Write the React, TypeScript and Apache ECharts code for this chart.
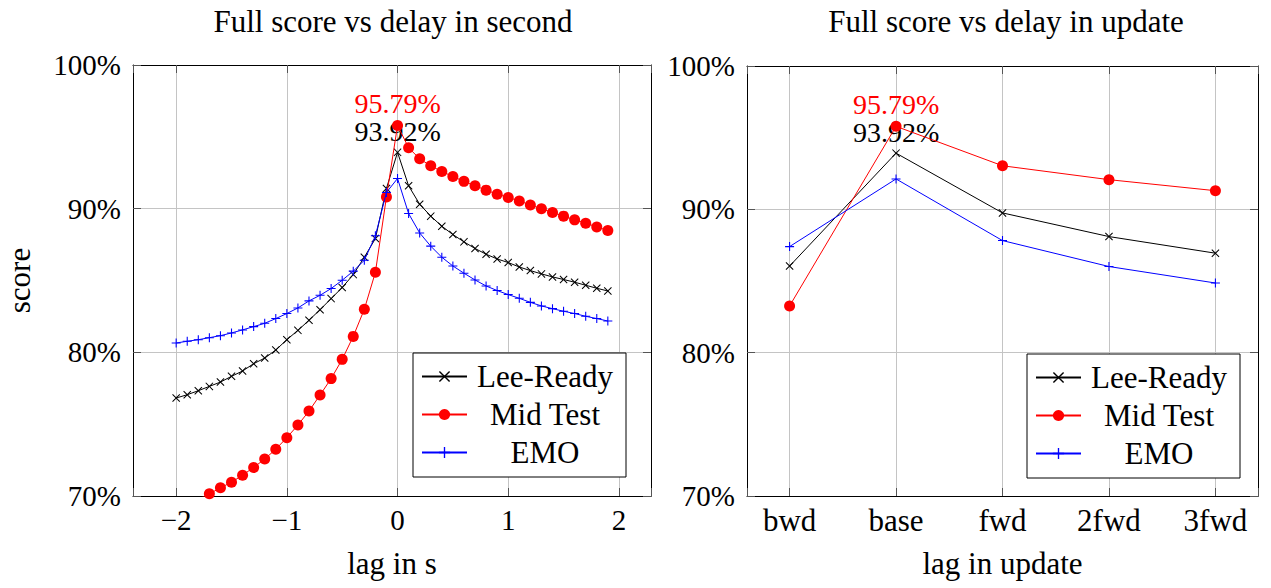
import React, { useEffect, useRef } from 'react';
import * as echarts from 'echarts';

const lagSeconds = [
  -2.0, -1.9, -1.8, -1.7, -1.6, -1.5, -1.4, -1.3, -1.2, -1.1,
  -1.0, -0.9, -0.8, -0.7, -0.6, -0.5, -0.4, -0.3, -0.2, -0.1,
  0.0, 0.1, 0.2, 0.3, 0.4, 0.5, 0.6, 0.7, 0.8, 0.9,
  1.0, 1.1, 1.2, 1.3, 1.4, 1.5, 1.6, 1.7, 1.8, 1.9,
];
const leeReadySec = [
  76.82, 77.05, 77.33, 77.63, 77.93, 78.33, 78.7, 79.21, 79.6, 80.16,
  80.88, 81.53, 82.23, 82.97, 83.74, 84.51, 85.41, 86.62, 87.92, 91.41,
  93.92, 91.59, 90.31, 89.48, 88.78, 88.2, 87.69, 87.23, 86.83, 86.5,
  86.25, 85.94, 85.69, 85.46, 85.25, 85.07, 84.88, 84.67, 84.46, 84.27,
];
const midTestSec = [
  69.08, 69.42, 69.78, 70.15, 70.57, 70.96, 71.45, 71.99, 72.57, 73.26,
  74.06, 74.94, 75.91, 77.03, 78.17, 79.51, 81.11, 83.0, 85.57, 90.82,
  95.79, 94.24, 93.47, 92.98, 92.59, 92.24, 91.9, 91.59, 91.29, 91.01,
  90.78, 90.54, 90.26, 89.99, 89.74, 89.48, 89.22, 88.99, 88.73, 88.48,
];
const emoSec = [
  80.65, 80.77, 80.88, 81.02, 81.16, 81.35, 81.56, 81.79, 82.02, 82.35,
  82.7, 83.09, 83.58, 83.97, 84.44, 85.02, 85.65, 86.41, 88.11, 91.13,
  92.1, 89.66, 88.31, 87.39, 86.62, 86.01, 85.51, 85.04, 84.62, 84.3,
  84.02, 83.76, 83.48, 83.23, 83.04, 82.86, 82.7, 82.51, 82.35, 82.18,
];

const updateCategories = ['bwd', 'base', 'fwd', '2fwd', '3fwd'];
const leeReadyUpd = [86.04, 93.92, 89.75, 88.1, 86.94];
const midTestUpd = [83.26, 95.79, 93.04, 92.07, 91.3];
const emoUpd = [87.4, 92.12, 87.82, 86.01, 84.86];

const seriesNames = ['Lee-Ready', 'Mid Test', 'EMO'];
const peakLabels = ['93.92%', '95.79%'];

const SERIF = '"Liberation Serif", "Times New Roman", serif';
const FRAME = '#000000';
const GRIDC = '#c4c4c4';
const TICKC = '#555555';

const X_SYMBOL =
  'path://M0,0.9L0.9,0L5,4.1L9.1,0L10,0.9L5.9,5L10,9.1L9.1,10L5,5.9L0.9,10L0,9.1L4.1,5Z';
const PLUS_SYMBOL = 'path://M4.4,0H5.6V4.4H10V5.6H5.6V10H4.4V5.6H0V4.4H4.4Z';

const styles = [
  { color: '#000000', symbol: X_SYMBOL, size: 8 },
  { color: '#ff0000', symbol: 'circle', size: 11 },
  { color: '#0000ff', symbol: PLUS_SYMBOL, size: 9 },
];

function fmtNum(v: number): string {
  if (Math.abs(v - Math.round(v)) > 1e-6) return '';
  const r = Math.round(v);
  return r < 0 ? '\u2212' + Math.abs(r) : String(r);
}

function mkX(grid: number, min: number, max: number, bottom: boolean, extra: any) {
  return {
    type: 'value',
    gridIndex: grid,
    min,
    max,
    position: bottom ? 'bottom' : 'top',
    axisLine: { show: true, onZero: false, lineStyle: { color: FRAME, width: 1 } },
    axisTick: { show: true, inside: true, length: 8, lineStyle: { color: TICKC, width: 1 } },
    splitLine: { show: bottom, lineStyle: { color: GRIDC, width: 1 } },
    axisLabel: { show: false },
    ...extra,
  };
}

function mkY(grid: number, left: boolean, extra: any) {
  return {
    type: 'value',
    gridIndex: grid,
    min: 70,
    max: 100,
    interval: 10,
    position: left ? 'left' : 'right',
    axisLine: { show: true, onZero: false, lineStyle: { color: FRAME, width: 1 } },
    axisTick: { show: true, inside: true, length: 8, lineStyle: { color: TICKC, width: 1 } },
    splitLine: { show: left, lineStyle: { color: GRIDC, width: 1 } },
    axisLabel: left
      ? {
          show: true,
          formatter: (v: number) => v + '%',
          fontSize: 29,
          fontFamily: SERIF,
          color: '#000',
          margin: 12,
        }
      : { show: false },
    ...extra,
  };
}

function mkSeries(name: string, idx: number, data: any[], axis: number) {
  const st = styles[idx];
  return {
    type: 'line',
    name,
    xAxisIndex: axis,
    yAxisIndex: axis,
    data,
    clip: true,
    symbol: st.symbol,
    symbolSize: st.size,
    showAllSymbol: true,
    color: st.color,
    itemStyle: { color: st.color },
    lineStyle: { color: st.color, width: 1 },
    emphasis: { disabled: true },
    label: { show: false },
    z: 2 + idx,
  };
}

function peakItem(x: number, v: number, text: string, color: string, dist: number) {
  return {
    value: [x, v],
    label: {
      show: true,
      position: 'top',
      distance: dist,
      formatter: text,
      color,
      fontSize: 28,
      lineHeight: 24,
      fontFamily: SERIF,
    },
  };
}

function buildSec(vals: number[], idx: number) {
  return lagSeconds.map((x, i) => {
    if (x === 0 && idx === 0) return peakItem(x, vals[i], peakLabels[0], '#000', 4.5);
    if (x === 0 && idx === 1) return peakItem(x, vals[i], peakLabels[1], '#ff0000', 4.5);
    return [x, vals[i]];
  });
}

function buildUpd(vals: number[], idx: number) {
  return vals.map((v, i) => {
    if (i === 1 && idx === 0) return peakItem(i, v, peakLabels[0], '#000', 4.5);
    if (i === 1 && idx === 1) return peakItem(i, v, peakLabels[1], '#ff0000', 4.5);
    return [i, v];
  });
}

function mkLegend(left: number, top: number) {
  return {
    left,
    top,
    orient: 'vertical',
    data: seriesNames,
    backgroundColor: '#fff',
    borderColor: '#000',
    borderWidth: 1,
    borderRadius: 0,
    padding: [8, 8, 9, 8],
    itemGap: 7,
    itemWidth: 45,
    itemHeight: 14,
    selectedMode: false,
    formatter: (n: string) => `{t|${n}}`,
    textStyle: {
      color: '#000',
      fontFamily: SERIF,
      fontSize: 31,
      rich: { t: { width: 146, align: 'center', fontSize: 31, fontFamily: SERIF, lineHeight: 30 } },
    },
  };
}

export default function App() {
  const ref = useRef<HTMLDivElement>(null);
  useEffect(() => {
    if (!ref.current) return;
    const chart = echarts.init(ref.current, null, { renderer: 'svg' });
    const nameStyle = { fontSize: 31, fontFamily: SERIF, color: '#000' };
    const option: any = {
      animation: false,
      backgroundColor: '#ffffff',
      grid: [
        { left: 133, top: 65, width: 518, height: 431 },
        { left: 747, top: 66, width: 511, height: 430 },
      ],
      legend: [mkLegend(413, 353), mkLegend(1027, 354)],
      graphic: [
        {
          type: 'text',
          x: 393,
          y: 21,
          style: {
            text: 'Full score vs delay in second',
            fontSize: 31,
            fontFamily: SERIF,
            fill: '#000',
            align: 'center',
            verticalAlign: 'middle',
          },
        },
        {
          type: 'text',
          x: 1006,
          y: 21,
          style: {
            text: 'Full score vs delay in update',
            fontSize: 31,
            fontFamily: SERIF,
            fill: '#000',
            align: 'center',
            verticalAlign: 'middle',
          },
        },
      ],
      xAxis: [
        mkX(0, -2.39, 2.29, true, {
          axisLabel: { show: true, formatter: fmtNum, fontSize: 29, fontFamily: SERIF, color: '#000', margin: 9 },
          name: 'lag in s',
          nameLocation: 'middle',
          nameGap: 52,
          nameTextStyle: nameStyle,
        }),
        mkX(0, -2.39, 2.29, false, {}),
        mkX(1, -0.4, 4.4, true, {
          axisLabel: {
            show: true,
            formatter: (v: number) => {
              const r = Math.round(v);
              return Math.abs(v - r) < 1e-6 && updateCategories[r] !== undefined ? updateCategories[r] : '';
            },
            fontSize: 31,
            fontFamily: SERIF,
            color: '#000',
            margin: 9,
          },
          name: 'lag in update',
          nameLocation: 'middle',
          nameGap: 52,
          nameTextStyle: nameStyle,
        }),
        mkX(1, -0.4, 4.4, false, {}),
      ],
      yAxis: [
        mkY(0, true, {
          name: 'score',
          nameLocation: 'middle',
          nameRotate: 90,
          nameGap: 98,
          nameTextStyle: nameStyle,
        }),
        mkY(0, false, {}),
        mkY(1, true, {}),
        mkY(1, false, {}),
      ],
      series: [
        mkSeries(seriesNames[0], 0, buildSec(leeReadySec, 0), 0),
        mkSeries(seriesNames[1], 1, buildSec(midTestSec, 1), 0),
        mkSeries(seriesNames[2], 2, buildSec(emoSec, 2), 0),
        mkSeries(seriesNames[0], 0, buildUpd(leeReadyUpd, 0), 2),
        mkSeries(seriesNames[1], 1, buildUpd(midTestUpd, 1), 2),
        mkSeries(seriesNames[2], 2, buildUpd(emoUpd, 2), 2),
      ],
    };
    chart.setOption(option);
    return () => chart.dispose();
  }, []);
  return (
    <div
      ref={ref}
      style={{ position: 'absolute', left: 0, top: 0, width: 1271, height: 588, background: '#fff' }}
    />
  );
}
